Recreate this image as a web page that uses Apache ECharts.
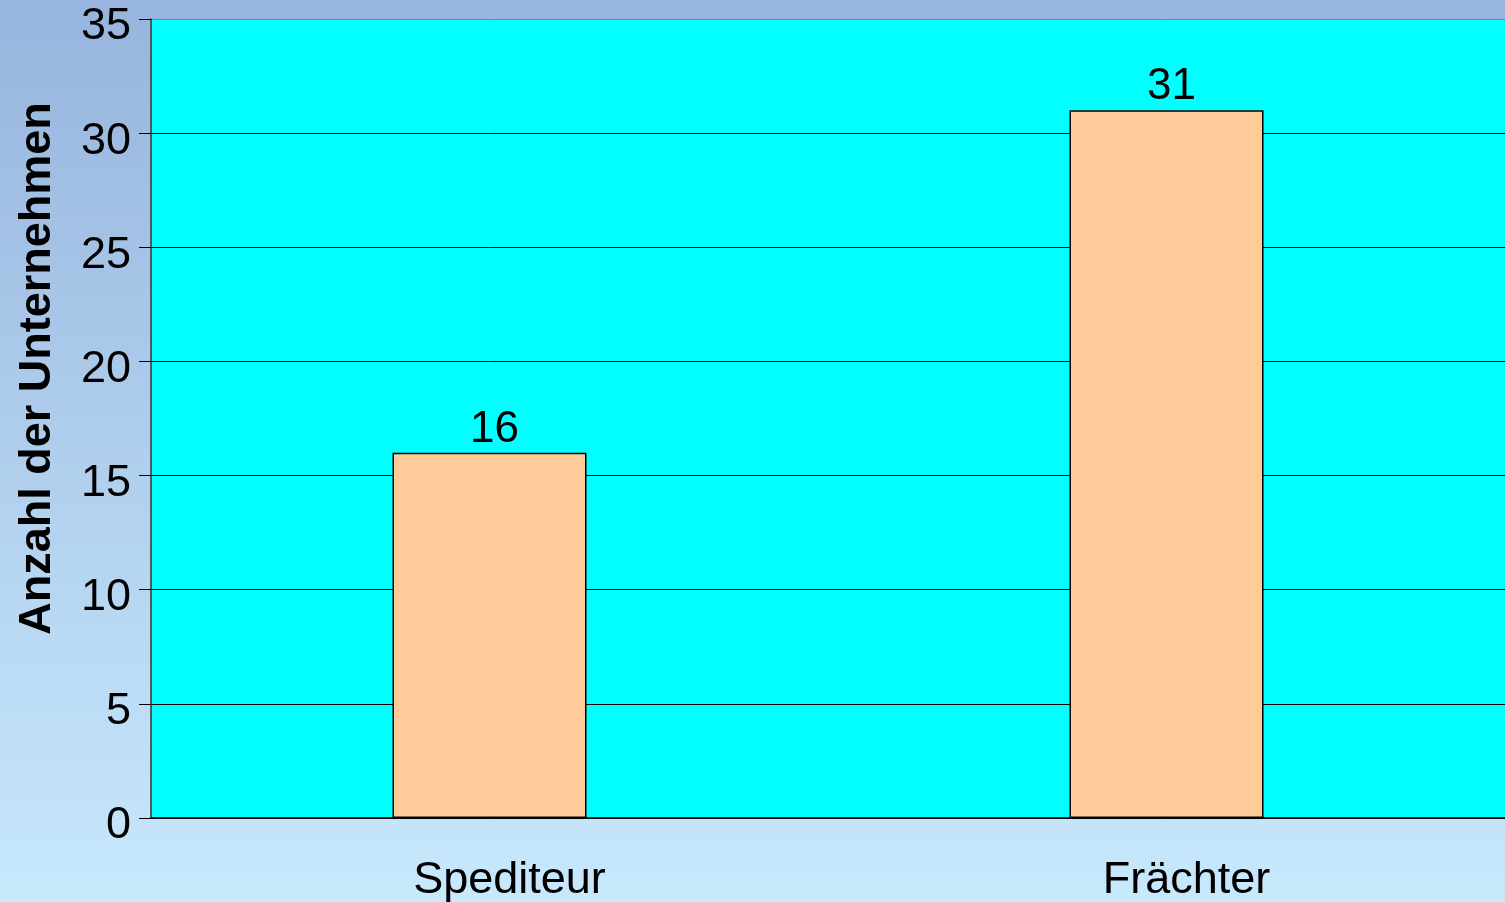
<!DOCTYPE html>
<html>
<head>
<meta charset="utf-8">
<script src="https://cdn.jsdelivr.net/npm/echarts@6/dist/echarts.min.js"></script>
<style>
  html, body { margin: 0; padding: 0; }
  #chart { width: 1505px; height: 902px; }
</style>
</head>
<body>
<div id="chart"></div>
<script>
const categories = ['Spediteur', 'Frächter']
const counts = [16, 31]
const yName = 'Anzahl der Unternehmen'

const chart = echarts.init(document.getElementById('chart'))
const font = '"Liberation Sans", Arial, sans-serif'

const option = {
  backgroundColor: new echarts.graphic.LinearGradient(0, 0, 0, 1, [
    { offset: 0, color: '#97b4dd' },
    { offset: 1, color: '#c8e8fc' }
  ]),
  textStyle: { fontFamily: font },
  grid: {
    left: 151,
    right: 0,
    top: 19,
    bottom: 84,
    outerBoundsMode: 'none',
    containLabel: false,
    show: true,
    backgroundColor: '#00ffff',
    borderWidth: 0
  },
  xAxis: {
    type: 'category',
    data: categories,
    axisLine: { lineStyle: { color: '#000', width: 1.5 } },
    axisTick: { length: 12, lineStyle: { color: '#000' } },
    axisLabel: {
      color: '#000',
      fontSize: 45,
      margin: 40,
      padding: [0, 0, 0, 40],
      fontFamily: font
    }
  },
  yAxis: {
    type: 'value',
    min: 0,
    max: 35,
    interval: 5,
    name: yName,
    nameLocation: 'middle',
    nameGap: 91,
    nameTextStyle: {
      color: '#000',
      fontSize: 45,
      fontWeight: 'bold',
      fontFamily: font,
      padding: [0, 0, 0, 100]
    },
    axisLine: { show: true, lineStyle: { color: '#333', width: 1.5 } },
    axisTick: { show: true, length: 12, lineStyle: { color: '#000' } },
    axisLabel: {
      color: '#000',
      fontSize: 45,
      margin: 20,
      verticalAlign: 'top',
      lineHeight: 16,
      fontFamily: font
    },
    splitLine: {
      lineStyle: {
        color: ['#000', '#000', '#000', '#000', '#000', '#000', '#000', '#808080'],
        width: 1
      }
    }
  },
  series: [
    {
      type: 'bar',
      data: counts,
      barWidth: 194,
      itemStyle: { color: '#ffcc99', borderColor: '#000', borderWidth: 1.5 },
      label: {
        show: true,
        position: 'top',
        distance: 1,
        offset: [5, 0],
        color: '#000',
        fontSize: 44,
        fontFamily: font
      }
    }
  ]
}

chart.setOption(option)
</script>
</body>
</html>
